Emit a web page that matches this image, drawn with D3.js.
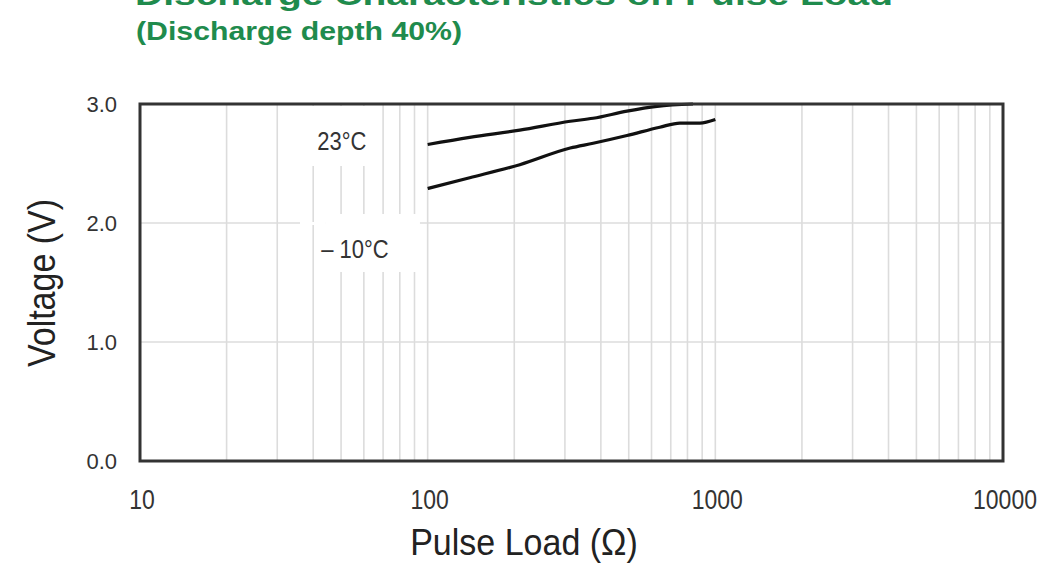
<!DOCTYPE html>
<html>
<head>
<meta charset="utf-8">
<script src="https://d3js.org/d3.v7.min.js"></script>
<style>
	body { margin: 0; background: #fff; }
	text { font-family: "Liberation Sans", Arial, sans-serif; }
</style>
</head>
<body>
<script>
// pulse load (ohm) and voltage
var load23 = [100, 140, 209, 313, 376, 493, 627, 836];
var volt23 = [2.66, 2.72, 2.78, 2.855, 2.88, 2.94, 2.98, 3.0];
var loadM10 = [100, 140, 209, 313, 376, 493, 641, 753, 884, 1000];
var voltM10 = [2.29, 2.38, 2.49, 2.63, 2.67, 2.735, 2.805, 2.84, 2.84, 2.87];

var xTicks = [10, 100, 1000, 10000];
var xTickLabels = ['10', '100', '1000', '10000'];
var yTicks = [0, 1, 2, 3];
var yTickLabels = ['0.0', '1.0', '2.0', '3.0'];

var width = 1061, height = 564;
var green = '#1f8b4d';

var svg = d3.select('body')
		.append('svg')
		.attr('width', width)
		.attr('height', height);

var x = d3.scaleLog()
	.domain([10, 10000])
	.range([140, 1003]);

var y = d3.scaleLinear()
	.domain([0, 3])
	.range([461, 104]);

// text is a bit taller than wide in the scan
function label(px, py, str, size, sy) {
	return svg.append('text')
		.attr('transform', 'translate(' + px + ',' + py + ') scale(1,' + sy + ')')
		.attr('font-size', size)
		.attr('fill', '#333')
		.text(str);
}

// titles
svg.append('text')
	.attr('x', 135)
	.attr('y', 5)
	.attr('fill', green)
	.attr('font-weight', 'bold')
	.attr('font-size', 30)
	.attr('textLength', 758)
	.attr('lengthAdjust', 'spacingAndGlyphs')
	.text('Discharge Characteristics on Pulse Load');

svg.append('text')
	.attr('x', 136)
	.attr('y', 40)
	.attr('fill', green)
	.attr('font-weight', 'bold')
	.attr('font-size', 25)
	.attr('textLength', 326)
	.attr('lengthAdjust', 'spacingAndGlyphs')
	.text('(Discharge depth 40%)');

// grid
var minor = [];
[10, 100, 1000].forEach(function(d) {
	for (var k = 1; k < 10; k++) if (d * k > 10) minor.push(d * k);
});

svg.append('g').selectAll('line')
	.data(minor)
	.enter().append('line')
	.attr('x1', function(d) { return x(d); })
	.attr('x2', function(d) { return x(d); })
	.attr('y1', y(3))
	.attr('y2', y(0))
	.attr('stroke', '#dcdcdc')
	.attr('stroke-width', 1.6);

svg.append('g').selectAll('line')
	.data([1, 2])
	.enter().append('line')
	.attr('x1', x(10))
	.attr('x2', x(10000))
	.attr('y1', function(d) { return y(d); })
	.attr('y2', function(d) { return y(d); })
	.attr('stroke', '#dcdcdc')
	.attr('stroke-width', 1.6);

// white patches behind the labels (as in the scan)
svg.append('rect')
	.attr('x', x(36)).attr('y', y(3) + 2)
	.attr('width', x(66) - x(36)).attr('height', 60)
	.attr('fill', '#fff');
svg.append('rect')
	.attr('x', x(44)).attr('y', 214)
	.attr('width', x(94) - x(44)).attr('height', 58)
	.attr('fill', '#fff');
svg.append('rect')
	.attr('x', x(36)).attr('y', y(2) - 1)
	.attr('width', x(44) - x(36)).attr('height', 3)
	.attr('fill', '#fff');

// curves
var line = d3.line()
	.x(function(d) { return x(d[0]); })
	.y(function(d) { return y(d[1]); })
	.curve(d3.curveMonotoneX);

svg.append('path')
	.datum(d3.zip(load23, volt23))
	.attr('d', line)
	.attr('fill', 'none')
	.attr('stroke', '#111')
	.attr('stroke-width', 3.2);

svg.append('path')
	.datum(d3.zip(loadM10, voltM10))
	.attr('d', line)
	.attr('fill', 'none')
	.attr('stroke', '#111')
	.attr('stroke-width', 3.2);

// frame
svg.append('rect')
	.attr('x', x(10))
	.attr('y', y(3))
	.attr('width', x(10000) - x(10))
	.attr('height', y(0) - y(3))
	.attr('fill', 'none')
	.attr('stroke', '#333')
	.attr('stroke-width', 3);

// curve labels
label(x(40) + 4, 150, '23\u00b0C', 22, 1.15);
label(x(40) + 8, 258, '\u2013 10\u00b0C', 22, 1.15);

// tick labels
xTicks.forEach(function(d, i) {
	label(x(d) + 2, 509, xTickLabels[i], 23, 1.2)
		.attr('text-anchor', 'middle');
});

yTicks.forEach(function(d, i) {
	label(117, y(d) + 8, yTickLabels[i], 22, 1)
		.attr('text-anchor', 'end');
});

// axis titles
label(524, 555, 'Pulse Load (\u03a9)', 34, 1.1)
	.attr('text-anchor', 'middle')
	.attr('fill', '#222');

svg.append('text')
	.attr('transform', 'translate(55,283) rotate(-90) scale(1.0,1.15)')
	.attr('text-anchor', 'middle')
	.attr('font-size', 34)
	.attr('fill', '#222')
	.text('Voltage (V)');
</script>
</body>
</html>
